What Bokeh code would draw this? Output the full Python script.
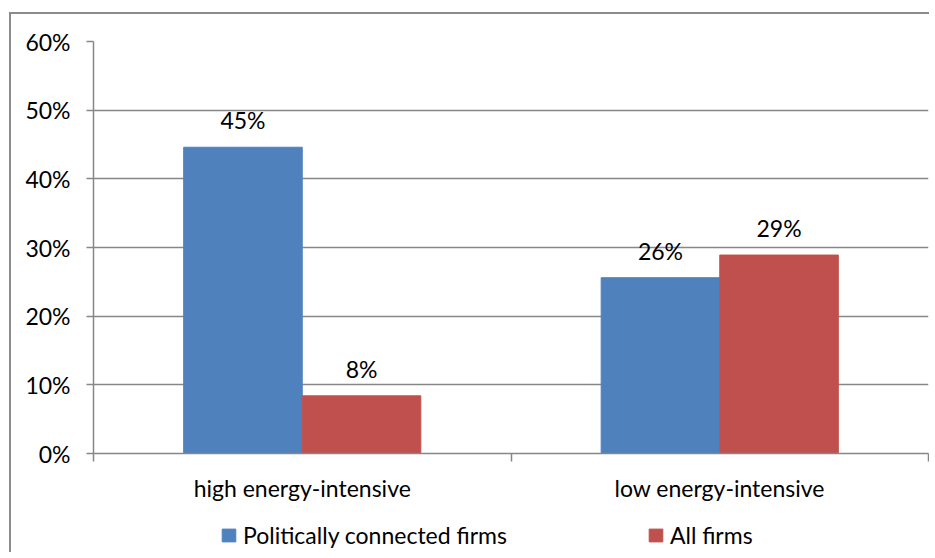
from bokeh.plotting import figure
from bokeh.layouts import column
from bokeh.models import (Range1d, FixedTicker, NumeralTickFormatter, Legend, LegendItem,
                          ColumnDataSource, LinearAxis)
from bokeh.transform import dodge
from bokeh.core.properties import value
from bokeh.embed import file_html
from bokeh.resources import INLINE

categories = ["high energy-intensive", "low energy-intensive"]
series_names = ["Politically connected firms", "All firms"]
connected = [0.446, 0.256]
all_firms = [0.084, 0.289]
connected_labels = ["45%", "26%"]
all_labels = ["8%", "29%"]
y_ticks = [0, 0.1, 0.2, 0.3, 0.4, 0.5, 0.6]

FONT = "Lato"
FS = "23px"
BLUE = "#4F81BD"
RED = "#C0504D"
GRAY = "#878787"

centers = [i + 0.5 for i in range(len(categories))]
bounds = [i for i in range(len(categories) + 1)]
src = ColumnDataSource(dict(x=centers, connected=connected, all=all_firms,
                            cl=connected_labels, al=all_labels))

p = figure(width=918, height=500, output_backend="svg", toolbar_location=None,
           x_range=Range1d(0, len(categories)), y_range=Range1d(0, 0.6),
           min_border_left=82, min_border_right=1, min_border_top=27, min_border_bottom=61,
           x_axis_type=None)
p.outline_line_color = None
p.background_fill_color = "white"
p.border_fill_color = "white"

bw = 0.284
p.vbar(x=dodge("x", -bw / 2, range=p.x_range), top="connected", width=bw, source=src,
       fill_color=BLUE, line_color=BLUE)
p.vbar(x=dodge("x", bw / 2, range=p.x_range), top="all", width=bw, source=src,
       fill_color=RED, line_color=RED)

for col, lab, off in (("connected", "cl", -bw / 2), ("all", "al", bw / 2)):
    p.text(x=dodge("x", off, range=p.x_range), y=col, text=lab, source=src,
           text_align="center", text_baseline="alphabetic", y_offset=-27,
           text_font=value(FONT), text_font_size=FS, text_color="black")

# y axis (default one) and its grid
yax = p.yaxis[0]
yax.ticker = FixedTicker(ticks=y_ticks)
yax.formatter = NumeralTickFormatter(format="0%")
yax.axis_line_color = GRAY
yax.axis_line_width = 1.5
yax.major_tick_line_color = GRAY
yax.major_tick_line_width = 1.5
yax.major_tick_out = 7
yax.major_tick_in = 0
yax.minor_tick_line_color = None
yax.major_label_standoff = 16
yax.major_label_text_font = FONT
yax.major_label_text_font_size = FS
yax.major_label_text_color = "black"
p.ygrid.grid_line_color = GRAY
p.ygrid.grid_line_width = 1.5

# x axis: labels at category centres, tick marks at category boundaries
xax = LinearAxis(ticker=FixedTicker(ticks=centers, minor_ticks=bounds))
xax.major_label_overrides = {c: n for c, n in zip(centers, categories)}
xax.axis_line_color = GRAY
xax.axis_line_width = 1.5
xax.major_tick_line_color = None
xax.major_tick_out = 0
xax.major_tick_in = 0
xax.minor_tick_line_color = GRAY
xax.minor_tick_line_width = 1.5
xax.minor_tick_out = 8
xax.minor_tick_in = 0
xax.major_label_standoff = 12
xax.major_label_text_font = FONT
xax.major_label_text_font_size = FS
xax.major_label_text_color = "black"
p.add_layout(xax, "below")

# legend strip below the chart (its bars lie outside the strip's visible y range)
p2 = figure(width=918, height=38, output_backend="svg", toolbar_location=None,
            x_range=Range1d(0, len(categories)), y_range=Range1d(1, 2),
            min_border_left=0, min_border_right=0, min_border_top=0, min_border_bottom=0,
            x_axis_type=None, y_axis_type=None)
p2.outline_line_color = None
k1 = p2.vbar(x=dodge("x", -bw / 2, range=p2.x_range), top="connected", width=bw, source=src,
             fill_color=BLUE, line_color=BLUE)
k2 = p2.vbar(x=dodge("x", bw / 2, range=p2.x_range), top="all", width=bw, source=src,
             fill_color=RED, line_color=RED)

legend = Legend(items=[LegendItem(label=series_names[0], renderers=[k1]),
                       LegendItem(label=series_names[1], renderers=[k2])],
                orientation="horizontal", location=(127, 3))
legend.margin = 0
legend.padding = 0
legend.glyph_width = 17
legend.glyph_height = 16
legend.label_standoff = 6
legend.label_width = 20
legend.spacing = 140
legend.label_text_font = FONT
legend.label_text_font_size = FS
legend.label_text_color = "black"
legend.border_line_color = None
legend.background_fill_alpha = 0
p2.add_layout(legend, "center")

layout = column(p, p2, spacing=0, margin=(12, 0, 0, 9),
                styles={"border-left": "2px solid #8c8c8c", "border-top": "2px solid #8c8c8c"})

open("out.html", "w").write(file_html(layout, INLINE))
